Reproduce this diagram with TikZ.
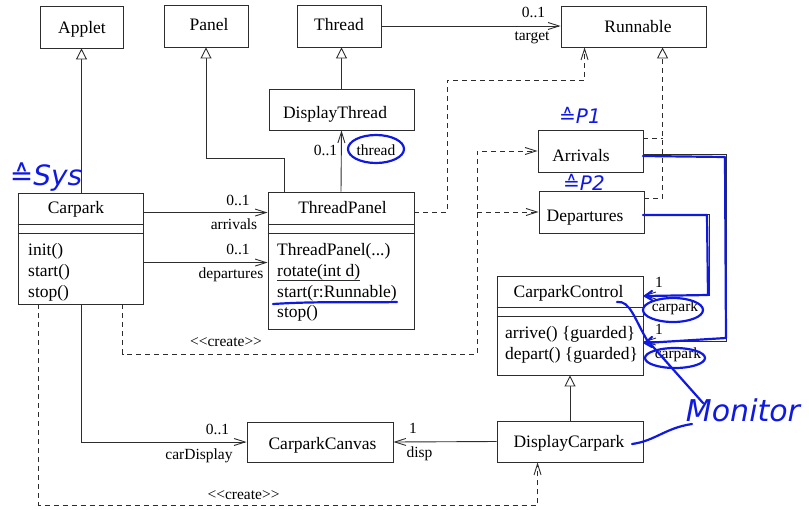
\documentclass[tikz,border=0pt]{standalone}
\usepackage{fontspec}
\setmainfont{Liberation Serif}
\newfontfamily\handfont{DejaVu Sans}
\usetikzlibrary{arrows.meta,calc}

\definecolor{lineC}{RGB}{45,45,45}
\definecolor{ink}{RGB}{15,25,225}

\tikzset{
  cls/.style={draw=lineC, line width=0.9pt, rectangle, inner sep=0pt},
  nm/.style={anchor=base, inner sep=0pt, font=\fontsize{17.5}{21}\selectfont},
  op/.style={anchor=base west, inner sep=0pt, font=\fontsize{17.5}{21}\selectfont},
  lbl/.style={anchor=base, inner sep=0pt, font=\fontsize{15.5}{18}\selectfont},
  conn/.style={draw=lineC, line width=0.9pt},
  assoc/.style={conn, -{Straight Barb[length=11pt,width=7pt]}},
  gen/.style={conn, -{Triangle[open,length=11pt,width=11pt,fill=white]}},
  dep/.style={conn, dash pattern=on 5pt off 4pt},
  deparrow/.style={dep, -{Straight Barb[length=11pt,width=7pt]}},
  realize/.style={dep, -{Triangle[open,length=11pt,width=11pt,fill=white]}},
  inkline/.style={draw=ink, line width=2.2pt, line cap=round, line join=round},
  inktext/.style={text=ink, inner sep=0pt, font=\handfont\itshape},
}

\begin{document}
\begin{tikzpicture}[x=1pt,y=-1pt]
\useasboundingbox (0,0) rectangle (809,509);

% ---------- classes ----------
\node[cls, minimum width=83pt,  minimum height=42pt]  (applet)   at (81.5,27)  {};
\node[cls, minimum width=84pt,  minimum height=42pt]  (panel)    at (206,26)   {};
\node[cls, minimum width=84pt,  minimum height=42pt]  (thread)   at (339,26)   {};
\node[cls, minimum width=145pt, minimum height=41pt]  (runnable) at (633.5,26.5) {};
\node[cls, minimum width=145pt, minimum height=41pt]  (dthread)  at (341.5,109.5) {};
\node[cls, minimum width=125pt, minimum height=111pt] (carpark)  at (80.5,248.5) {};
\node[cls, minimum width=146pt, minimum height=137pt] (tpanel)   at (341,260.5) {};
\node[cls, minimum width=105pt, minimum height=42pt]  (arr)      at (590.5,151) {};
\node[cls, minimum width=105pt, minimum height=42pt]  (dep)      at (591.5,212) {};
\node[cls, minimum width=146pt, minimum height=99pt]  (cc)       at (570,325.5) {};
\node[cls, minimum width=146pt, minimum height=40pt]  (canvas)   at (320,442)  {};
\node[cls, minimum width=146pt, minimum height=41pt]  (dcar)     at (570,441.5) {};

% compartment separators
\draw[conn] ($(carpark.north west)+(0,32)$) -- ($(carpark.north east)+(0,32)$);
\draw[conn] ($(carpark.north west)+(0,41)$) -- ($(carpark.north east)+(0,41)$);
\draw[conn] ($(tpanel.north west)+(0,33)$) -- ($(tpanel.north east)+(0,33)$);
\draw[conn] ($(tpanel.north west)+(0,42)$) -- ($(tpanel.north east)+(0,42)$);
\draw[conn] ($(cc.north west)+(0,32)$) -- ($(cc.north east)+(0,32)$);
\draw[conn] ($(cc.north west)+(0,41)$) -- ($(cc.north east)+(0,41)$);

% ---------- class names and operations ----------
\node[nm] (appletT)   at (82,33)    {Applet};
\node[nm] (panelT)    at (209,30)   {Panel};
\node[nm] (threadT)   at (339,30)   {Thread};
\node[nm] (runnableT) at (638,32)   {Runnable};
\node[nm] (dthreadT)  at (335,118)  {DisplayThread};
\node[nm] (carparkT)  at (76,213)   {Carpark};
\node[nm] (tpanelT)   at (342.5,213) {ThreadPanel};
\node[nm] (arrT)      at (581,161)  {Arrivals};
\node[nm] (depT)      at (585,221)  {Departures};
\node[nm] (ccT)       at (568.5,297) {CarparkControl};
\node[nm] (canvasT)   at (322.5,449) {CarparkCanvas};
\node[nm] (dcarT)     at (569,447)  {DisplayCarpark};

\node[op] (opInit)  at (28,255) {init()};
\node[op] (opStart) at (28,276) {start()};
\node[op] (opStop)  at (28,297) {stop()};

\node[op] (opTP)     at (277,255) {ThreadPanel(...)};
\node[op] (opRot)    at (277,276) {rotate(int d)};
\node[op] (opTStart) at (277,297) {start(r:Runnable)};
\node[op] (opTStop)  at (277,317) {stop()};
\draw[lineC, line width=0.8pt] ($(opRot.base west)+(0,4)$) -- ($(opRot.base east)+(0,4)$);

\node[op] (opArrive) at (505,338) {arrive() \{guarded\}};
\node[op] (opDepart) at (505,359) {depart() \{guarded\}};

% ---------- generalisations ----------
\draw[gen] (carpark.north -| applet.south) -- (applet.south);
\coordinate (pbend) at ($(tpanel.north west)+(17,-33)$);
\draw[gen] (tpanel.north west -| pbend) -- (pbend) -| (panel.south);
\draw[gen] (dthread.north) -- (dthread.north |- thread.south);
\draw[gen] (dcar.north) -- (cc.south);

% ---------- associations ----------
\draw[assoc] (thread.east) -- (thread.east -| runnable.west);
\draw[assoc] (tpanel.north) -- (dthread.south);
\coordinate (arrOut) at ($(carpark.north east)+(0,20)$);
\coordinate (depOut) at ($(carpark.north east)+(0,70)$);
\draw[assoc] (arrOut) -- (arrOut -| tpanel.west);
\draw[assoc] (depOut) -- (depOut -| tpanel.west);
\draw[assoc] (carpark.south -| applet.south) |- (canvas.west);
\draw[assoc] (dcar.west) -- (canvas.east);

\coordinate (a1) at ($(arr.east)+(0,3)$);
\coordinate (a2) at (726,154);
\coordinate (a3) at ($(cc.north east)+(0,66)$);
\draw[assoc] (a1) -- (a2) |- (a3);
\coordinate (d1) at ($(dep.east)+(0,2)$);
\coordinate (d2) at (709,214);
\coordinate (d3) at ($(cc.north east)+(0,20)$);
\draw[assoc] (d1) -- (d2) |- (d3);

% ---------- realisations of Runnable ----------
\coordinate (tpR) at ($(tpanel.north east)+(0,21)$);
\coordinate (r1)  at (447,80);
\coordinate (rIn) at ($(runnable.south west)+(24,0)$);
\draw[deparrow] (tpR) -- (tpR -| r1) -- (r1) -- (r1 -| rIn) -- (rIn);
\coordinate (rIn2) at ($(runnable.south west)+(102,0)$);
\coordinate (arrR) at ($(arr.north east)+(0,9)$);
\coordinate (depR) at ($(dep.north east)+(0,8)$);
\draw[dep] (arrR) -- (arrR -| rIn2);
\draw[realize] (depR) -- (depR -| rIn2) -- (rIn2);

% ---------- <<create>> dependencies ----------
\coordinate (c1) at ($(carpark.south west)+(105,0)$);
\coordinate (c2) at (477,354);
\draw[deparrow] (c1) -- (c1 |- c2) -- (c2) |- (arr.west);
\coordinate (c3) at (477,212);
\draw[deparrow] (c3) -- (dep.west);
\coordinate (e1) at ($(carpark.south west)+(21,0)$);
\coordinate (e2) at ($(dcar.south west)+(41,43)$);
\coordinate (e3) at ($(dcar.south west)+(41,0)$);
\draw[deparrow] (e1) |- (e2) -- (e3);

% ---------- association labels ----------
\node[lbl] (mTarget) at (533.5,17) {0..1};
\node[lbl] (lTarget) at (532,40)   {target};
\node[lbl] (mThread) at (325.5,155) {0..1};
\node[lbl] (lThread) at (376,155)  {thread};
\node[lbl] (mArr)    at (238,205)  {0..1};
\node[lbl] (lArr)    at (234,229)  {arrivals};
\node[lbl] (mDep)    at (238,254)  {0..1};
\node[lbl] (lDep)    at (231,278)  {departures};
\node[lbl] (lCre1)   at (226,346)  {{<}{<}create{>}{>}};
\node[lbl] (mCc1)    at (659,287)  {1};
\node[lbl] (lCc1)    at (675,311)  {carpark};
\node[lbl] (mCc2)    at (659,334)  {1};
\node[lbl] (lCc2)    at (678,358)  {carpark};
\node[lbl] (mCan)    at (217.5,434) {0..1};
\node[lbl] (lCan)    at (199,459)  {carDisplay};
\node[lbl] (mDisp)   at (413,433)  {1};
\node[lbl] (lDisp)   at (419.5,457) {disp};
\node[lbl] (lCre2)   at (243.5,499) {{<}{<}create{>}{>}};

% ---------- hand-written notes ----------
\node[inktext, font=\handfont\itshape\fontsize{28}{30}\selectfont] (nSys) at (46,177) {≙Sys};
\node[inktext, font=\handfont\itshape\fontsize{20}{22}\selectfont] (nP1) at (580,115) {≙P1};
\node[inktext, font=\handfont\itshape\fontsize{20}{22}\selectfont] (nP2) at (584,182) {≙P2};
\node[inktext, font=\handfont\itshape\fontsize{30}{32}\selectfont] (nMon) at (743,410) {Monitor};

\draw[inkline] (376,149) ellipse [x radius=28pt, y radius=14pt];
\draw[inkline] (673,310) ellipse [x radius=30pt, y radius=12pt];
\draw[inkline] (675,358) ellipse [x radius=30pt, y radius=10pt];
\draw[inkline] (273,304) .. controls (320,301) and (350,303) .. (397,302);

\draw[inkline] (643,156) -- (725,157) -- (726,338) -- (645,343);
\draw[inkline] (652,337) -- (645,343) -- (652,347);
\draw[inkline] (643,215) -- (707,215) -- (708,295) -- (645,296);
\draw[inkline] (652,291) -- (645,296) -- (652,300);

\draw[inkline] (617,302) .. controls (630,300) and (635,320) .. (647,340) -- (703,403);
\draw[inkline] (632,444) .. controls (655,441) and (665,428) .. (692,424);
\end{tikzpicture}
\end{document}
